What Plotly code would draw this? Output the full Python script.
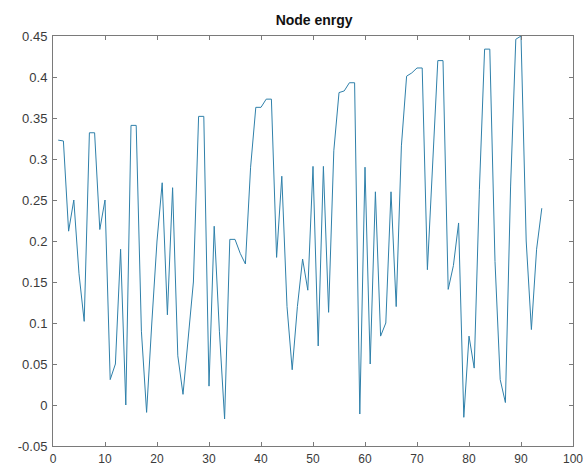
import plotly.graph_objects as go

# Node energy values (x = node index)
node_index = list(range(1, 95))
node_energy = [
    0.323, 0.322, 0.212, 0.250, 0.160, 0.102, 0.332, 0.332, 0.214, 0.250,
    0.031, 0.050, 0.190, 0.000, 0.341, 0.341, 0.090, -0.009, 0.100, 0.200,
    0.271, 0.110, 0.265, 0.060, 0.013, 0.080, 0.150, 0.352, 0.352, 0.023,
    0.218, 0.090, -0.017, 0.202, 0.202, 0.185, 0.172, 0.290, 0.363, 0.363,
    0.373, 0.373, 0.180, 0.279, 0.120, 0.043, 0.120, 0.178, 0.140, 0.291,
    0.072, 0.291, 0.113, 0.310, 0.381, 0.383, 0.393, 0.393, -0.011, 0.290,
    0.050, 0.260, 0.084, 0.100, 0.260, 0.120, 0.316, 0.401, 0.405, 0.411,
    0.411, 0.165, 0.300, 0.420, 0.420, 0.141, 0.170, 0.222, -0.015, 0.084,
    0.045, 0.263, 0.434, 0.434, 0.175, 0.031, 0.003, 0.267, 0.446, 0.450,
    0.200, 0.092, 0.190, 0.240,
]

x_ticks = [0, 10, 20, 30, 40, 50, 60, 70, 80, 90, 100]
y_ticks = [-0.05, 0, 0.05, 0.1, 0.15, 0.2, 0.25, 0.3, 0.35, 0.4, 0.45]
y_tick_text = ["-0.05", "0", "0.05", "0.1", "0.15", "0.2", "0.25", "0.3", "0.35", "0.4", "0.45"]

fig = go.Figure()
fig.add_trace(go.Scatter(
    x=node_index, y=node_energy, mode="lines",
    line=dict(color="#2f80aa", width=1),
    showlegend=False,
))

axis_common = dict(
    showgrid=False, zeroline=False, showline=True, linecolor="#7a7a7a",
    linewidth=1, mirror="ticks", ticks="inside", ticklen=4, automargin=False,
    tickcolor="#7a7a7a",
)

fig.update_layout(
    width=585, height=468,
    margin=dict(l=53, r=12, t=36, b=22),
    paper_bgcolor="white", plot_bgcolor="white",
    title=dict(text="<b>Node enrgy</b>", x=0.537, xanchor="center", y=0.958, yanchor="middle",
               font=dict(family="Liberation Sans, Arial", size=14, color="#111111")),
    xaxis=dict(range=[0, 100], tickvals=x_ticks, ticklabelstandoff=2,
               tickfont=dict(family="Liberation Sans, Arial", size=12, color="#3a3a3a"),
               **axis_common),
    yaxis=dict(range=[-0.05, 0.45], tickvals=y_ticks, ticktext=y_tick_text,
               ticklabelstandoff=2,
               tickfont=dict(family="Liberation Sans, Arial", size=13, color="#3a3a3a"),
               **axis_common),
)

fig.write_html("out.html")
